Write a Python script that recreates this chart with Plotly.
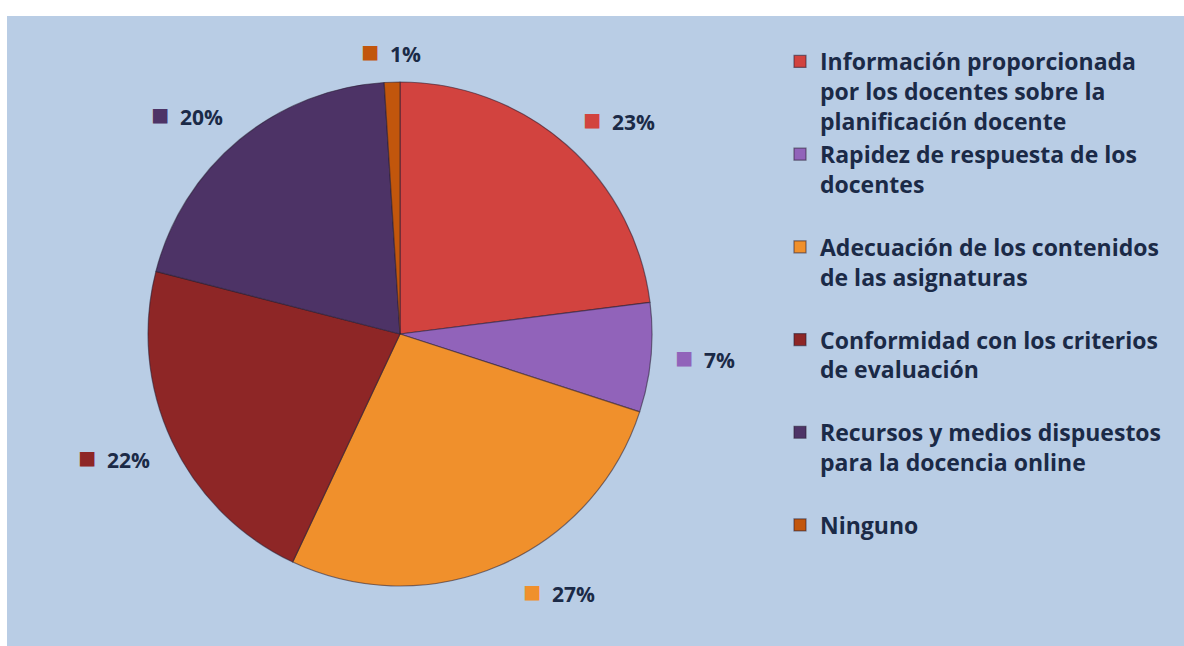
import math
import plotly.graph_objects as go

categories = [
    "Información proporcionada<br>por los docentes sobre la<br>planificación docente",
    "Rapidez de respuesta de los<br>docentes<br> ",
    "Adecuación de los contenidos<br>de las asignaturas<br> ",
    "Conformidad con los criterios<br>de evaluación<br> ",
    "Recursos y medios dispuestos<br>para la docencia online<br> ",
    "Ninguno",
]
values = [23, 7, 27, 22, 20, 1]
colors = ["#D2433F", "#9163BA", "#F0902C", "#8E2626", "#4D3366", "#C2560C"]

W, H = 1184, 646
BG = "#B9CDE5"
TEXT = "#1B2A47"
FONT = "Open Sans"

# pie geometry in pixels (margins are zero so paper == pixels)
cx, cy, R = 400, 334, 252
dom_x = [(cx - R) / W, (cx + R) / W]
dom_y = [1 - (cy + R) / H, 1 - (cy - R) / H]

fig = go.Figure()
fig.add_trace(go.Pie(
    labels=categories,
    values=values,
    sort=False,
    direction="clockwise",
    rotation=0,
    textinfo="none",
    hoverinfo="label+percent",
    marker=dict(colors=colors, line=dict(color="rgba(40,30,50,0.55)", width=1.2)),
    domain=dict(x=dom_x, y=dom_y),
))

# outside labels placed by slice mid-angle
total = sum(values)
cum = 0
annotations = []
for v, c in zip(values, colors):
    mid = (cum + v / 2) / total * 2 * math.pi
    cum += v
    dx, dy = math.sin(mid), -math.cos(mid)
    d = R + 22
    px, py = cx + dx * d, cy + dy * d
    xa = "left" if dx > 0.3 else ("right" if dx < -0.3 else "center")
    ya = "bottom" if dy < -0.3 else ("top" if dy > 0.3 else "middle")
    ys = {"bottom": -13, "top": 17, "middle": 3}[ya]
    xs = 12 if (xa == "left" and ya == "top") else 0
    pct = round(v / total * 100)
    annotations.append(dict(
        x=px / W, y=1 - py / H, xref="paper", yref="paper",
        xanchor=xa, yanchor=ya, yshift=ys, xshift=xs, showarrow=False,
        text=f"<span style='color:{c};font-size:30px'>■</span>  {pct}%",
        font=dict(family=FONT, size=21, color=TEXT, weight="bold"),
    ))

fig.update_layout(
    width=W, height=H,
    margin=dict(l=0, r=0, t=0, b=0),
    paper_bgcolor=BG,
    annotations=annotations,
    shapes=[
        dict(type="rect", xref="paper", yref="paper",
             x0=0, x1=1, y0=1 - 16 / H, y1=1,
             fillcolor="white", line=dict(width=0), layer="below"),
        dict(type="rect", xref="paper", yref="paper",
             x0=0, x1=7 / W, y0=0, y1=1,
             fillcolor="white", line=dict(width=0), layer="below"),
    ],
    showlegend=True,
    legend=dict(
        x=780 / W, y=1 - 40 / H, xanchor="left", yanchor="top",
        valign="top",
        bgcolor="rgba(0,0,0,0)",
        font=dict(family=FONT, size=23, color=TEXT, weight="bold"),
        itemclick=False, itemdoubleclick=False,
    ),
)

fig.write_html(
    "out.html",
    config={"displayModeBar": False},
    post_script="document.body.style.margin='0';document.body.style.overflow='hidden';"
                "document.documentElement.style.overflow='hidden';",
)
